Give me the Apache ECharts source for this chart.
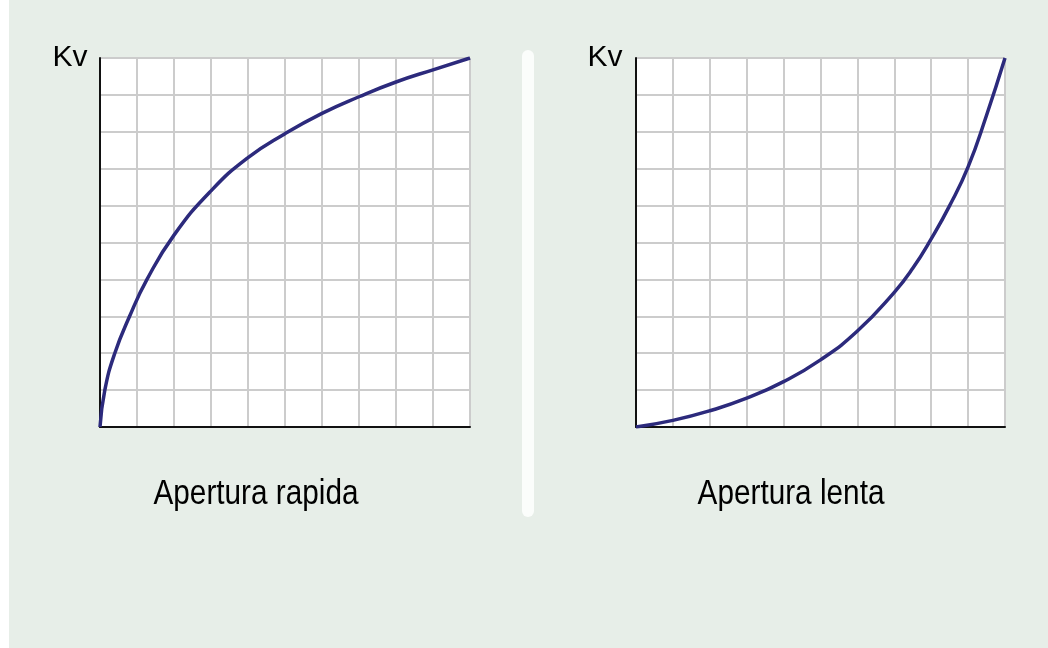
<!DOCTYPE html>
<html>
<head>
<meta charset="utf-8">
<title>Kv</title>
<script src="https://cdn.jsdelivr.net/npm/echarts@6/dist/echarts.min.js"></script>
<style>
  html, body { margin: 0; padding: 0; background: #fff; }
  #chart { width: 1048px; height: 648px; }
</style>
</head>
<body>
<div id="chart"></div>
<script>
// 数据 (scala 0-10)
var rapidaX = [0, 0.13, 0.4, 0.8, 1.27, 2, 3, 4, 5, 6, 7, 8, 9, 10];
var rapidaY = [0, 1, 2, 3, 4, 5.2, 6.4, 7.3, 7.95, 8.5, 8.95, 9.35, 9.68, 10];
var lentaX = [0, 1, 2, 3, 4, 5, 6, 7, 7.5, 8, 8.5, 9, 9.5, 10];
var lentaY = [0, 0.18, 0.44, 0.78, 1.23, 1.82, 2.6, 3.65, 4.3, 5.1, 6, 7.05, 8.45, 10];
var titoli = ['Apertura rapida', 'Apertura lenta'];
var assiY = ['Kv', 'Kv'];

function coppie(xs, ys) {
    var out = [];
    for (var i = 0; i < xs.length; i++) out.push([xs[i], ys[i]]);
    return out;
}

var chart = echarts.init(document.getElementById('chart'));

function asse(idx) {
    return {
        type: 'value',
        gridIndex: idx,
        min: 0,
        max: 10,
        interval: 1,
        axisLabel: { show: false },
        axisTick: { show: false },
        axisLine: { show: true, onZero: false, lineStyle: { color: '#111', width: 2 } },
        splitLine: { show: true, lineStyle: { color: '#cccccc', width: 2 } }
    };
}

var linea = { color: '#2c2a7c', width: 3.5 };
var fontTxt = '"Liberation Sans", Arial, sans-serif';

function testo(x, y, t, size, sx) {
    return {
        type: 'text', x: x, y: y, scaleX: sx, silent: true,
        style: {
            text: t, font: size + 'px ' + fontTxt, fill: '#000',
            align: 'center', textAlign: 'center',
            verticalAlign: 'middle', textVerticalAlign: 'middle'
        }
    };
}

var option = {
    backgroundColor: '#e7eee8',
    animation: false,
    grid: [
        { left: 100, top: 58, width: 370, height: 369, show: true, backgroundColor: '#fff', borderWidth: 0 },
        { left: 636, top: 58, width: 369, height: 369, show: true, backgroundColor: '#fff', borderWidth: 0 }
    ],
    xAxis: [asse(0), asse(1)],
    yAxis: [asse(0), asse(1)],
    series: [
        {
            type: 'line', xAxisIndex: 0, yAxisIndex: 0,
            data: coppie(rapidaX, rapidaY),
            showSymbol: false, smooth: 0.5,
            lineStyle: linea, z: 5
        },
        {
            type: 'line', xAxisIndex: 1, yAxisIndex: 1,
            data: coppie(lentaX, lentaY),
            showSymbol: false, smooth: 0.5,
            lineStyle: linea, z: 5
        }
    ],
    graphic: [
        // striscia bianca a sinistra
        { type: 'rect', shape: { x: 0, y: 0, width: 9, height: 648 }, style: { fill: '#fff' }, silent: true },
        // separatore
        { type: 'rect', shape: { x: 522, y: 50, width: 12, height: 467, r: 6 }, style: { fill: '#fbfdfb' }, silent: true },
        testo(70, 58, assiY[0], 30, 1),
        testo(605, 58, assiY[1], 30, 1),
        testo(256, 494, titoli[0], 35, 0.85),
        testo(791, 494, titoli[1], 35, 0.85)
    ]
};

chart.setOption(option);
</script>
</body>
</html>
